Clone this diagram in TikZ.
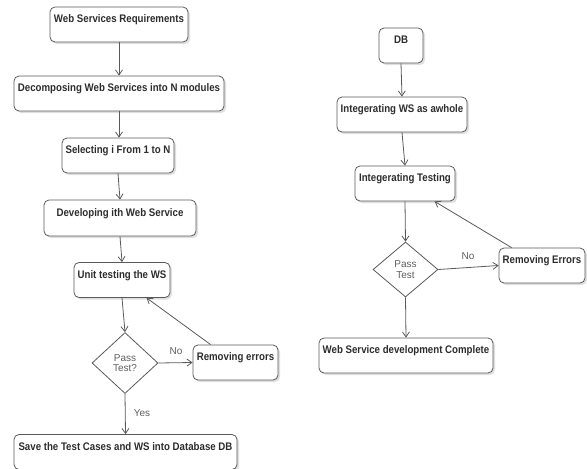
\documentclass[tikz,border=0pt]{standalone}
\usepackage{fontspec}
\setmainfont{Liberation Sans}[FakeStretch=0.88]
\newfontfamily\plainf{Liberation Sans}
\usetikzlibrary{arrows.meta,shapes.geometric,shadows,calc}
\definecolor{linec}{RGB}{90,90,90}
\definecolor{txtc}{RGB}{45,45,45}
\definecolor{lblc}{RGB}{95,95,95}
\begin{document}
\begin{tikzpicture}[x=1pt,y=-1pt,
  box/.style={draw=linec, line width=0.8pt, rounded corners=5pt, fill=white,
    drop shadow={shadow xshift=2pt,shadow yshift=-2pt,fill=black!25,opacity=0.5},
    font=\bfseries\fontsize{11}{13}\selectfont, text=txtc,
    minimum height=35pt, text height=12.5pt, text depth=16.5pt,
    inner ysep=3pt, inner xsep=2pt},
  dia/.style={diamond, draw=linec, line width=0.8pt, fill=white, text=lblc,
    font=\plainf\fontsize{10}{10.5}\selectfont, align=center, inner sep=0pt,
    minimum width=66pt, minimum height=61pt},
  lbl/.style={text=lblc, font=\plainf\fontsize{10}{12}\selectfont, inner sep=0pt},
  arr/.style={draw=linec, line width=0.8pt, -{Straight Barb[length=5pt,width=7pt]}}
]
\useasboundingbox (0,0) rectangle (587,469);
% left column
\node[box, minimum width=138pt] (b1) at (119,24.5) {Web Services Requirements};
\node[box, minimum width=210pt] (b2) at (119,93.5) {Decomposing Web Services into N modules};
\node[box, minimum width=112pt] (b3) at (118,155.5) {Selecting i From 1 to N};
\node[box, minimum width=152pt, minimum height=36pt] (b4) at (120,218) {Developing ith Web Service};
\node[box, minimum width=96pt] (b5) at (122,280) {Unit testing the WS};
\node[dia] (d1) at (125,363) {Pass\\Test?};
\node[box, minimum width=85pt] (r1) at (235.5,362.5) {Removing errors};
\node[box, minimum width=223pt] (s1) at (125.5,452) {Save the Test Cases and WS into Database DB};
\node[lbl] (no1) at (176,351) {No};
\node[lbl] (yes1) at (142,413) {Yes};
\draw[arr] (b1.south) -- (b2.north);
\draw[arr] (b2.south) -- (b2.south |- b3.north);
\draw[arr] (b3.south) -- (b4.north);
\draw[arr] (b4.south) -- (b5.north);
\draw[arr] (b5.south) -- (d1.north);
\draw[arr] (d1.east) -- (r1.west);
\draw[arr] (d1.south) -- (s1.north);
\draw[arr] ($(r1.north west)+(18,0)$) -- ($(b5.south west)+(73,0)$);
% right column
\node[box, minimum width=44pt] (db) at (401,45.5) {DB};
\node[box, minimum width=130pt] (iw) at (402,114.5) {Integerating WS as awhole};
\node[box, minimum width=100pt] (it) at (405,183.5) {Integerating Testing};
\node[dia, minimum width=65pt, minimum height=55pt] (d2) at (405.5,269.5) {Pass\\Test};
\node[box, minimum width=86pt] (r2) at (542,265.5) {Removing Errors};
\node[box, minimum width=174pt] (wc) at (406,355.5) {Web Service development Complete};
\node[lbl] (no2) at (468,256) {No};
\draw[arr] (db.south) -- (iw.north);
\draw[arr] (iw.south) -- (it.north);
\draw[arr] (it.south) -- (d2.north);
\draw[arr] (d2.east) -- (r2.west);
\draw[arr] (d2.south) -- (wc.north);
\draw[arr] ($(r2.north west)+(13,0)$) -- ($(it.south west)+(80,0)$);
\end{tikzpicture}
\end{document}
